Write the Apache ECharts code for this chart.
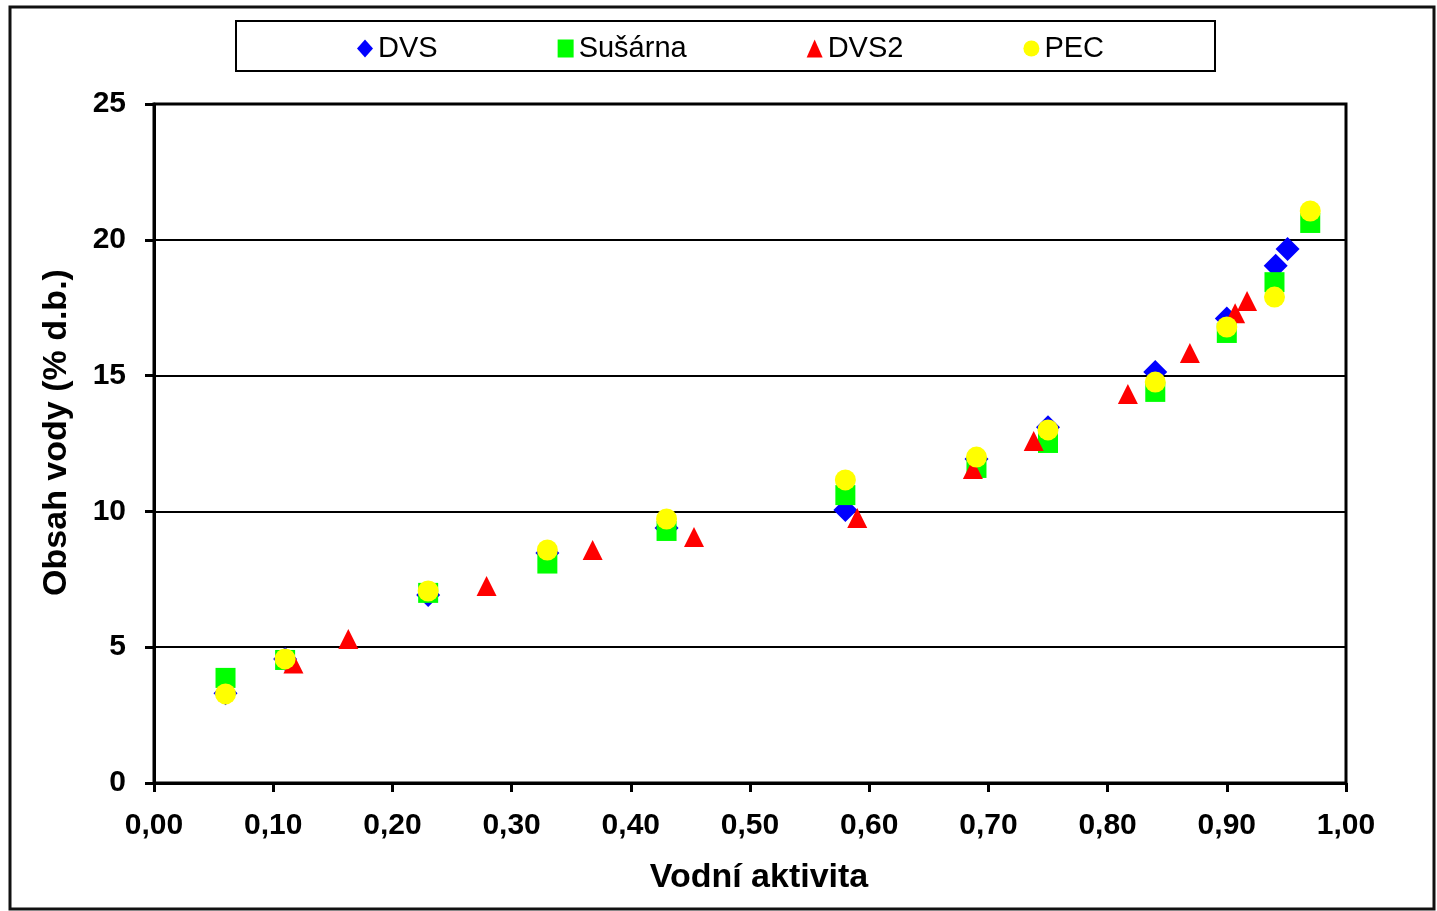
<!DOCTYPE html>
<html>
<head>
<meta charset="utf-8">
<script src="https://cdn.jsdelivr.net/npm/echarts@6/dist/echarts.min.js"></script>
<style>
  html, body { margin: 0; padding: 0; background: #fff; }
  #chart { width: 1437px; height: 911px; }
</style>
</head>
<body>
<div id="chart"></div>
<script>
// data: [vodni aktivita, obsah vody]
const dvs = [
  [0.06, 3.3], [0.11, 4.57], [0.23, 6.92], [0.33, 8.47], [0.43, 9.39],
  [0.58, 10.05], [0.69, 11.93], [0.75, 13.1], [0.84, 15.13], [0.90, 17.1],
  [0.941, 19.04], [0.951, 19.66]
];
const susarna = [
  [0.06, 3.87], [0.11, 4.53], [0.23, 7.0], [0.33, 8.08], [0.43, 9.28],
  [0.58, 10.6], [0.69, 11.6], [0.75, 12.52], [0.84, 14.4], [0.90, 16.57],
  [0.94, 18.44], [0.97, 20.62]
];
const dvs2 = [
  [0.117, 4.4], [0.163, 5.3], [0.279, 7.25], [0.368, 8.58], [0.453, 9.06],
  [0.59, 9.76], [0.687, 11.56], [0.738, 12.59], [0.817, 14.32], [0.869, 15.83],
  [0.907, 17.3], [0.917, 17.75]
];
const pec = [
  [0.06, 3.28], [0.11, 4.57], [0.23, 7.07], [0.33, 8.58], [0.43, 9.72],
  [0.58, 11.16], [0.69, 12.0], [0.75, 13.0], [0.84, 14.76], [0.90, 16.79],
  [0.94, 17.89], [0.97, 21.06]
];

const font = 'Liberation Sans, Arial, sans-serif';

const chart = echarts.init(document.getElementById('chart'));

// axis style shared by x and y
const axisCommon = {
  axisLine: { show: true, onZero: false, lineStyle: { color: '#000', width: 3 } },
  axisTick: { show: true, inside: false, length: 9, lineStyle: { color: '#000', width: 3 } },
  axisLabel: { color: '#000', fontSize: 30, fontWeight: 'bold', fontFamily: font, margin: 28 },
  nameTextStyle: { color: '#000', fontSize: 34, fontWeight: 'bold', fontFamily: font }
};

chart.setOption({
  animation: false,
  backgroundColor: '#fff',
  graphic: [
    {
      type: 'rect',
      shape: { x: 10, y: 7, width: 1424, height: 902 },
      style: { fill: 'none', stroke: '#111', lineWidth: 3 },
      z: 100
    },
    {
      type: 'rect',
      shape: { x: 236, y: 21, width: 979, height: 50 },
      style: { fill: 'none', stroke: '#000', lineWidth: 2 },
      z: 100
    }
  ],
  legend: {
    left: 352,
    top: 29,
    itemGap: 120,
    itemWidth: 16,
    itemHeight: 18,
    textStyle: { color: '#000', fontSize: 29, fontFamily: font },
    data: ['DVS', 'Sušárna', 'DVS2', 'PEC']
  },
  grid: { left: 154, right: 91, top: 104, bottom: 128, show: true, borderColor: '#000', borderWidth: 3 },
  xAxis: {
    type: 'value',
    min: 0, max: 1, interval: 0.1,
    name: 'Vodní aktivita',
    nameLocation: 'middle',
    nameGap: 78,
    splitLine: { show: false },
    ...axisCommon,
    nameTextStyle: { ...axisCommon.nameTextStyle, padding: [0, 0, 0, 18] },
    axisLabel: { ...axisCommon.axisLabel, formatter: v => v.toFixed(2).replace('.', ',') }
  },
  yAxis: {
    type: 'value',
    min: 0, max: 25, interval: 5,
    name: 'Obsah vody (% d.b.)',
    nameLocation: 'middle',
    nameGap: 80,
    splitLine: { show: true, lineStyle: { color: '#000', width: 2 } },
    ...axisCommon,
    nameTextStyle: { ...axisCommon.nameTextStyle, padding: [0, 0, 0, 22] }
  },
  series: [
    { name: 'DVS', type: 'scatter', data: dvs, symbol: 'diamond', symbolSize: [24, 24],
      itemStyle: { color: '#0000ff', opacity: 1 } },
    { name: 'Sušárna', type: 'scatter', data: susarna, symbol: 'rect', symbolSize: 20,
      itemStyle: { color: '#00ff00', opacity: 1 } },
    { name: 'DVS2', type: 'scatter', data: dvs2, symbol: 'triangle', symbolSize: 20,
      itemStyle: { color: '#ff0000', opacity: 1 } },
    { name: 'PEC', type: 'scatter', data: pec, symbol: 'circle', symbolSize: 21,
      itemStyle: { color: '#ffff00', opacity: 1 } }
  ]
});
</script>
</body>
</html>
